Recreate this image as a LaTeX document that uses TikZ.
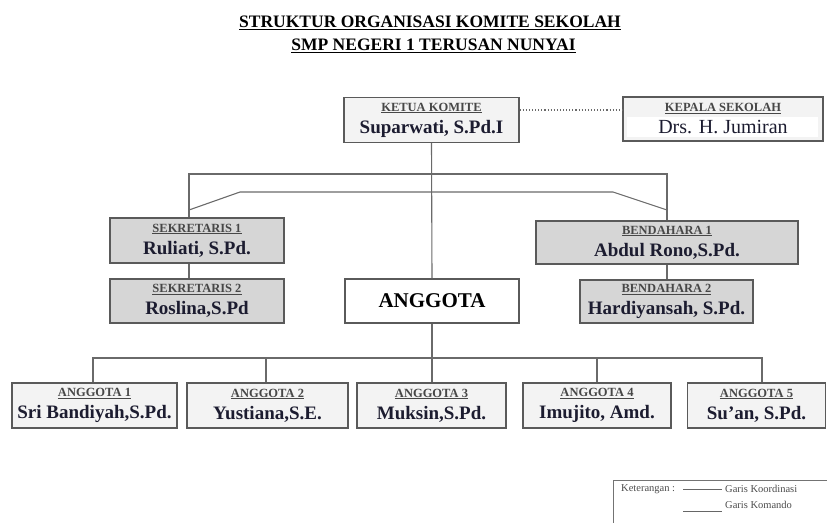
\documentclass[tikz,border=0pt]{standalone}
\usepackage{fontspec}
\setmainfont{Liberation Serif}
\definecolor{boxline}{HTML}{5A5A5A}
\definecolor{conn}{HTML}{6A6A6A}
\definecolor{lightfill}{HTML}{F3F3F3}
\definecolor{darkfill}{HTML}{D6D6D6}
\definecolor{nmcol}{HTML}{1C1C30}
\newcommand\lbl[1]{{\fontsize{12.5}{13}\selectfont\bfseries\color{black!72}\underline{#1}}}
\begin{document}
\begin{tikzpicture}[x=1pt,y=-1pt,
  box/.style={draw=boxline, line width=1.2pt, inner sep=0pt, align=center, anchor=center,
              font=\fontsize{19}{22}\selectfont\bfseries, text=nmcol},
  light/.style={box, fill=lightfill},
  dark/.style={box, fill=darkfill},
  white/.style={box, fill=white},
  conline/.style={draw=conn, line width=1.1pt},
  dotline/.style={draw=conn, line width=1.1pt, dotted},
  legtext/.style={anchor=west, inner sep=0pt, font=\fontsize{10.5}{11}\selectfont, text=black!70}]
\useasboundingbox (0,0) rectangle (827,522);
% title
\node[font=\fontsize{17.5}{19}\selectfont\bfseries] (t1) at (430,23) {\underline{STRUKTUR ORGANISASI KOMITE SEKOLAH}};
\node[font=\fontsize{17.5}{19}\selectfont\bfseries] (t2) at (433.5,46) {\underline{SMP NEGERI 1 TERUSAN NUNYAI}};
% nodes
\node[light, minimum width=175pt, minimum height=45pt] (ketua) at (431.5,120) {\lbl{KETUA KOMITE}\\Suparwati, S.Pd.I};
\node[light, minimum width=200pt, minimum height=44pt,
  path picture={\path[fill=white, draw=none] ([xshift=4pt,yshift=4pt]path picture bounding box.south west) rectangle ([xshift=-5pt,yshift=2pt]path picture bounding box.east);}]
  (kepala) at (723,119) {\lbl{KEPALA SEKOLAH}\\{\fontsize{20}{22}\selectfont\mdseries Drs. H. Jumiran}};
\node[dark, minimum width=174pt, minimum height=45pt] (sek1) at (197,240.5) {\lbl{SEKRETARIS 1}\\Ruliati, S.Pd.};
\node[dark, minimum width=174pt, minimum height=44pt] (sek2) at (197,301) {\lbl{SEKRETARIS 2}\\Roslina,S.Pd};
\node[white, minimum width=174pt, minimum height=44pt, font=\fontsize{21}{22}\selectfont\bfseries, text=black] (angg) at (432,301) {ANGGOTA};
\node[dark, minimum width=262pt, minimum height=43pt] (ben1) at (667,242.5) {\lbl{BENDAHARA 1}\\Abdul Rono,S.Pd.};
\node[dark, minimum width=173pt, minimum height=43pt] (ben2) at (666.5,301.5) {\lbl{BENDAHARA 2}\\Hardiyansah, S.Pd.};
\node[light, minimum width=165pt, minimum height=45pt] (a1) at (94.5,405.5) {\lbl{ANGGOTA 1}\\Sri Bandiyah,S.Pd.};
\node[light, minimum width=161pt, minimum height=45pt] (a2) at (267.5,405.5) {\lbl{ANGGOTA 2}\\Yustiana,S.E.};
\node[light, minimum width=149pt, minimum height=45pt] (a3) at (431.5,405.5) {\lbl{ANGGOTA 3}\\Muksin,S.Pd.};
\node[light, minimum width=148pt, minimum height=45pt] (a4) at (597,405.5) {\lbl{ANGGOTA 4}\\Imujito, Amd.};
\node[light, minimum width=138pt, minimum height=45pt] (a5) at (756.5,405.5) {\lbl{ANGGOTA 5}\\Su'an, S.Pd.};
% connectors
\coordinate (L) at (189,174);
\coordinate (R) at (667,174);
\coordinate (L2) at (189,210);
\coordinate (R2) at (667,210);
\coordinate (B) at (0,358);
\draw[conline] (ketua.south) -- (angg.north);
\draw[conline] (sek1.north -| L) -- (L) -- (R) -- (ben1.north -| R);
\draw[conline] (L2) -- (240,192) -- (613,192) -- (R2);
\draw[conline] (sek1.south -| L) -- (sek2.north -| L);
\draw[conline] (ben1.south -| R) -- (ben2.north -| R);
\draw[conline] (angg.south) -- (angg.south |- B);
\draw[conline] (a1.north -| 93,0) -- (93,358) -- (762,358) -- (a5.north -| 762,0);
\draw[conline] (a2.north -| 266,0) -- (266,358);
\draw[conline] (a3.north -| 432,0) -- (432,358);
\draw[conline] (a4.north -| 597,0) -- (597,358);
\draw[dotline] (ketua.east |- 0,110) -- (kepala.west |- 0,110);
% legend
\coordinate (lg1) at (613,530);
\coordinate (lg2) at (613,480);
\coordinate (lg3) at (835,480);
\draw[draw=black!55, line width=1pt] (lg1) -- (lg2) -- (lg3);
\node[legtext] (ket) at (621,489) {Keterangan :};
\coordinate (k1) at (683,489);
\coordinate (k2) at (722,489);
\draw[black!60, line width=0.6pt] (k1) -- (k2);
\node[legtext] (gk) at (725,489) {Garis Koordinasi};
\coordinate (k3) at (683,511);
\coordinate (k4) at (722,511);
\draw[black!60, line width=0.6pt] (k3) -- (k4);
\node[legtext] (gm) at (725,505) {Garis Komando};
\end{tikzpicture}
\end{document}
